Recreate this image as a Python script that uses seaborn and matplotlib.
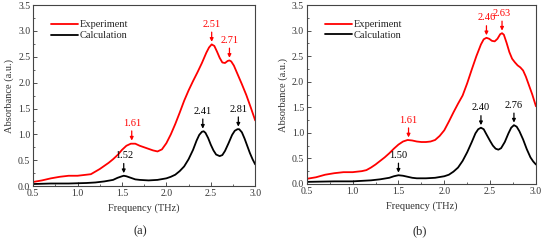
import numpy as np
import pandas as pd
import matplotlib
matplotlib.use("Agg")
import matplotlib.pyplot as plt
import seaborn as sns
from matplotlib.ticker import MultipleLocator, FormatStrFormatter

# panel (a) - experiment
a_exp_x = [0.5, 0.6, 0.7, 0.8, 0.9, 1.0, 1.1, 1.15, 1.2, 1.25, 1.3, 1.35, 1.4, 1.45, 1.5, 1.55, 1.6, 1.65,
           1.7, 1.75, 1.8, 1.85, 1.9, 1.95, 2.0, 2.05, 2.1, 2.15, 2.2, 2.25, 2.3, 2.35, 2.4, 2.45, 2.48,
           2.51, 2.54, 2.57, 2.6, 2.63, 2.66, 2.69, 2.71, 2.73, 2.76, 2.8, 2.85, 2.9, 2.95, 3.0]
a_exp_y = [0.08, 0.11, 0.15, 0.18, 0.20, 0.20, 0.22, 0.23, 0.28, 0.33, 0.39, 0.45, 0.52, 0.60, 0.70, 0.78, 0.82, 0.82,
           0.78, 0.75, 0.72, 0.69, 0.67, 0.71, 0.83, 1.00, 1.20, 1.42, 1.65, 1.85, 2.03, 2.20, 2.38, 2.58, 2.68,
           2.74, 2.71, 2.60, 2.48, 2.39, 2.38, 2.42, 2.43, 2.41, 2.33, 2.17, 1.97, 1.76, 1.52, 1.27]
# panel (a) - calculation
a_cal_x = [0.5, 0.7, 0.9, 1.1, 1.2, 1.3, 1.4, 1.45, 1.5, 1.52, 1.55, 1.6, 1.65, 1.7, 1.8, 1.9, 2.0, 2.05,
           2.1, 2.15, 2.2, 2.25, 2.3, 2.34, 2.37, 2.4, 2.42, 2.44, 2.47, 2.5, 2.53, 2.56, 2.6, 2.63, 2.66,
           2.7, 2.74, 2.77, 2.8, 2.82, 2.85, 2.88, 2.91, 2.94, 2.97, 3.0]
a_cal_y = [0.04, 0.05, 0.05, 0.06, 0.07, 0.09, 0.12, 0.16, 0.19, 0.20, 0.19, 0.16, 0.13, 0.12, 0.11, 0.12, 0.15, 0.18,
           0.22, 0.29, 0.38, 0.52, 0.70, 0.88, 0.99, 1.05, 1.06, 1.03, 0.93, 0.80, 0.69, 0.61, 0.58, 0.60, 0.68,
           0.83, 0.99, 1.07, 1.10, 1.10, 1.04, 0.92, 0.78, 0.64, 0.52, 0.42]

# panel (b) - experiment
b_exp_x = [0.5, 0.6, 0.7, 0.8, 0.9, 1.0, 1.1, 1.15, 1.2, 1.25, 1.3, 1.35, 1.4, 1.45, 1.5, 1.55, 1.6, 1.65,
           1.7, 1.75, 1.8, 1.85, 1.9, 1.95, 2.0, 2.05, 2.1, 2.15, 2.2, 2.25, 2.3, 2.35, 2.4, 2.43, 2.46,
           2.49, 2.52, 2.55, 2.58, 2.61, 2.63, 2.65, 2.68, 2.71, 2.74, 2.77, 2.8, 2.83, 2.86, 2.89, 2.92,
           2.96, 3.0]
b_exp_y = [0.10, 0.13, 0.18, 0.21, 0.23, 0.23, 0.25, 0.27, 0.32, 0.38, 0.45, 0.52, 0.60, 0.69, 0.77, 0.83, 0.86, 0.85,
           0.83, 0.82, 0.82, 0.83, 0.86, 0.94, 1.05, 1.22, 1.40, 1.57, 1.73, 1.97, 2.24, 2.50, 2.73, 2.83, 2.86,
           2.84, 2.80, 2.79, 2.84, 2.93, 2.95, 2.92, 2.76, 2.58, 2.45, 2.38, 2.32, 2.28, 2.22, 2.10, 1.95,
           1.75, 1.52]
# panel (b) - calculation
b_cal_x = [0.5, 0.8, 1.0, 1.2, 1.3, 1.4, 1.45, 1.5, 1.55, 1.6, 1.65, 1.7, 1.8, 1.9, 2.0, 2.05, 2.1, 2.15,
           2.2, 2.25, 2.3, 2.34, 2.37, 2.4, 2.43, 2.46, 2.5, 2.53, 2.56, 2.59, 2.62, 2.66, 2.7, 2.73, 2.76,
           2.79, 2.82, 2.86, 2.9, 2.94, 2.97, 3.0]
b_cal_y = [0.04, 0.05, 0.05, 0.07, 0.09, 0.12, 0.15, 0.17, 0.16, 0.14, 0.12, 0.11, 0.11, 0.12, 0.15, 0.18, 0.24, 0.32,
           0.45, 0.62, 0.82, 0.99, 1.07, 1.10, 1.07, 0.97, 0.84, 0.75, 0.69, 0.67, 0.70, 0.82, 0.99, 1.10, 1.15,
           1.12, 1.03, 0.87, 0.68, 0.52, 0.44, 0.38]

# peak labels (x, peak height, colour)
a_peaks = [(1.61, 0.83, 'red'), (2.51, 2.74, 'red'), (2.71, 2.43, 'red'),
           (1.52, 0.20, 'black'), (2.41, 1.06, 'black'), (2.81, 1.10, 'black')]
b_peaks = [(1.61, 0.86, 'red'), (2.46, 2.86, 'red'), (2.63, 2.95, 'red'),
           (1.50, 0.17, 'black'), (2.40, 1.10, 'black'), (2.76, 1.15, 'black')]

sns.set_style("ticks")
plt.rcParams['font.family'] = ['Liberation Serif', 'DejaVu Serif']
plt.rcParams['font.size'] = 7
plt.rcParams['xtick.direction'] = 'in'
plt.rcParams['ytick.direction'] = 'in'
plt.rcParams['lines.solid_joinstyle'] = 'round'

fig = plt.figure(figsize=(5.43, 2.42), dpi=100)
ax_a = fig.add_axes([0.061, 0.231, 0.409, 0.748])
ax_b = fig.add_axes([0.565, 0.240, 0.422, 0.739])


def draw(ax, ex, ey, cx, cy, peaks, tag, tag_x):
    sns.lineplot(x=ex, y=ey, ax=ax, color='red', lw=1.3, sort=False, label='Experiment')
    sns.lineplot(x=cx, y=cy, ax=ax, color='black', lw=1.3, sort=False, label='Calculation')
    ax.set_xlim(0.5, 3.0)
    ax.set_ylim(0, 3.5)
    ax.xaxis.set_major_locator(MultipleLocator(0.5))
    ax.xaxis.set_minor_locator(MultipleLocator(0.25))
    ax.yaxis.set_major_locator(MultipleLocator(0.5))
    ax.yaxis.set_minor_locator(MultipleLocator(0.25))
    ax.xaxis.set_major_formatter(FormatStrFormatter('%.1f'))
    ax.yaxis.set_major_formatter(FormatStrFormatter('%.1f'))
    ax.tick_params(which='major', length=3, width=0.6, labelsize=7, pad=2, colors='#333333')
    ax.tick_params(which='minor', length=1.5, width=0.5)
    for s in ax.spines.values():
        s.set_linewidth(0.8)
        s.set_color('#444444')
    ax.set_xlabel('Frequency (THz)', fontsize=7.5, labelpad=4, color='#333333')
    ax.set_ylabel('Absorbance (a.u.)', fontsize=7.5, labelpad=3, color='#333333')
    for px, py, c in peaks:
        ax.annotate(f'{px:.2f}', xy=(px, py + 0.05), xytext=(px, py + 0.3),
                    ha='center', va='bottom', color=c, fontsize=7.5,
                    arrowprops=dict(arrowstyle='-|>', color=c, lw=0.9, mutation_scale=5,
                                    shrinkA=0, shrinkB=0))
    ax.legend(loc='upper left', bbox_to_anchor=(0.06, 0.94), frameon=False, fontsize=7.5,
              handlelength=2.6, handletextpad=0.2, labelspacing=0.15, borderaxespad=0)
    fig.text(tag_x, 0.03, tag, ha='center', fontsize=9)


draw(ax_a, a_exp_x, a_exp_y, a_cal_x, a_cal_y, a_peaks, '(a)', 0.258)
draw(ax_b, b_exp_x, b_exp_y, b_cal_x, b_cal_y, b_peaks, '(b)', 0.772)

fig.savefig('out.png', dpi=100)
